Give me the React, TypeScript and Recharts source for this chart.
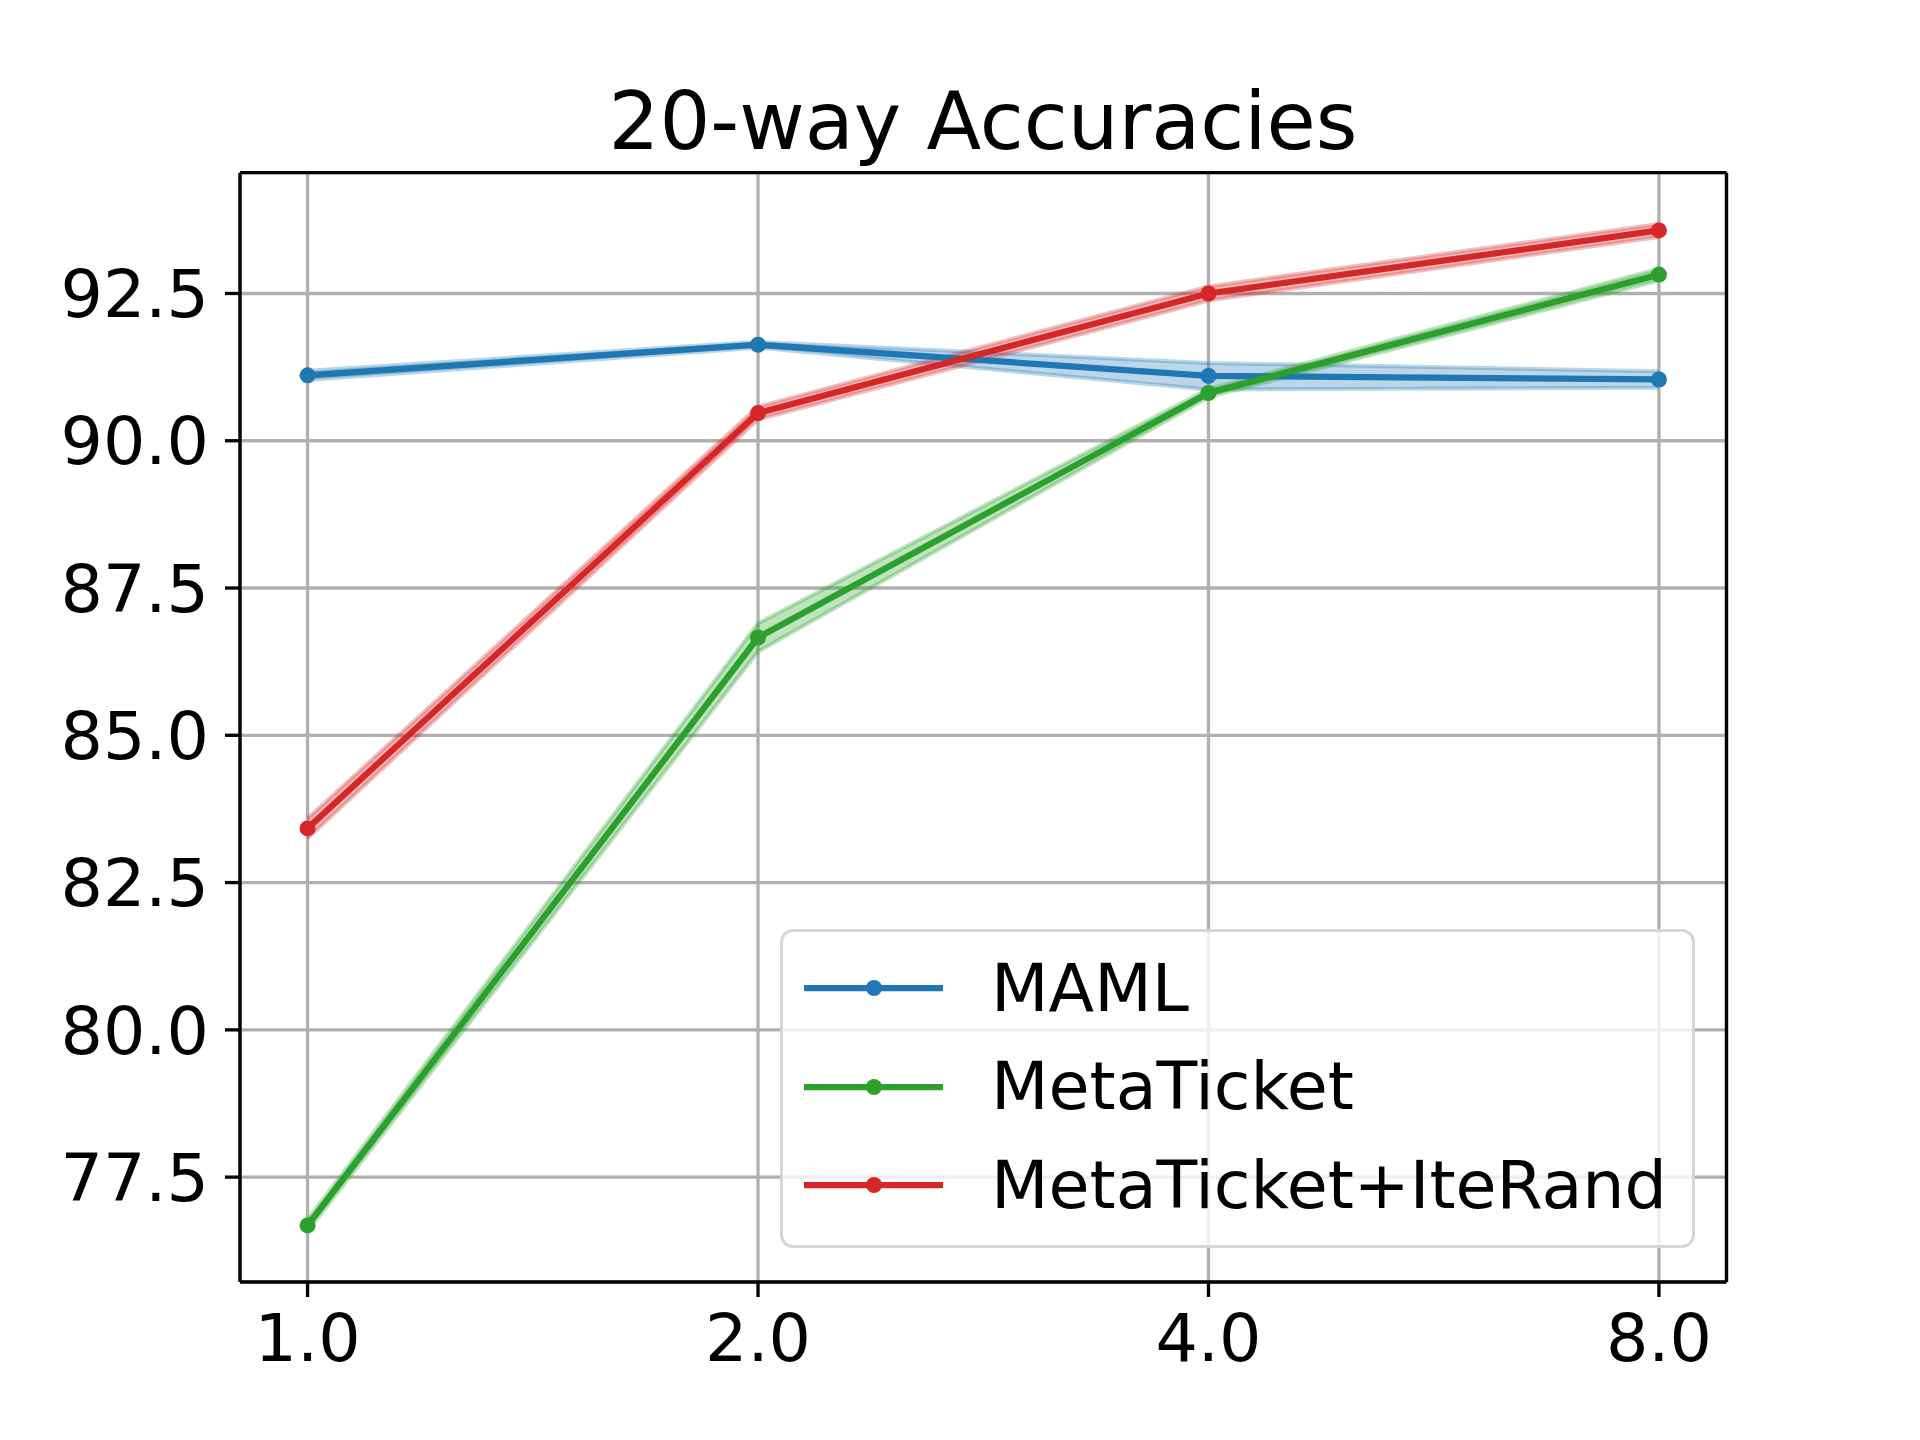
import { ComposedChart, Line, Area, XAxis, YAxis, CartesianGrid, ReferenceLine, Legend } from 'recharts';

const FONT = '"DejaVu Sans", sans-serif';

// x values (log2-spaced), y tick marks
const STEPS = [1, 2, 4, 8];
const Y_TICKS = [77.5, 80.0, 82.5, 85.0, 87.5, 90.0, 92.5];

// MAML
const MAML_MEAN = [91.11, 91.63, 91.10, 91.04];
const MAML_LO = [91.03, 91.58, 90.87, 90.90];
const MAML_HI = [91.19, 91.68, 91.32, 91.18];

// MetaTicket
const MT_MEAN = [76.68, 86.66, 90.81, 92.82];
const MT_LO = [76.58, 86.42, 90.74, 92.72];
const MT_HI = [76.78, 86.90, 90.88, 92.92];

// MetaTicket+IteRand
const IR_MEAN = [83.42, 90.47, 92.50, 93.57];
const IR_LO = [83.25, 90.36, 92.38, 93.46];
const IR_HI = [83.59, 90.58, 92.62, 93.68];

const X_MIN = Math.pow(2, -0.15);
const X_MAX = Math.pow(2, 3.15);
const Y_MIN = 75.72;
const Y_MAX = 94.55;

const data = STEPS.map((x, i) => ({
    x,
    maml: MAML_MEAN[i], mamlLo: MAML_LO[i], mamlHi: MAML_HI[i],
    mt: MT_MEAN[i], mtLo: MT_LO[i], mtHi: MT_HI[i],
    ir: IR_MEAN[i], irLo: IR_LO[i], irHi: IR_HI[i],
}));

const SERIES = [
    { name: 'MAML', color: '#1f77b4' },
    { name: 'MetaTicket', color: '#2ca02c' },
    { name: 'MetaTicket+IteRand', color: '#d62728' },
];

const LW = 6.25;
const GRID_W = 3.33;

const renderLegend = () => (
    <div style={{
        boxSizing: 'border-box', width: 915, height: 319,
        border: '3.3px solid rgba(204,204,204,0.8)', borderRadius: 13,
        background: 'rgba(255,255,255,0.8)', paddingTop: 7,
    }}>
        {SERIES.map((s) => (
            <div key={s.name} style={{ display: 'flex', alignItems: 'center', height: 98.5 }}>
                <svg width={208} height={30} style={{ flex: 'none' }}>
                    <line x1={21} y1={15} x2={160} y2={15} stroke={s.color} strokeWidth={LW} />
                    <circle cx={91} cy={15} r={8} fill={s.color} />
                </svg>
                <span style={{ fontFamily: FONT, fontSize: 66.7, color: '#000', whiteSpace: 'nowrap', lineHeight: 1 }}>
                    {s.name}
                </span>
            </div>
        ))}
    </div>
);

export default function App() {
    return (
        <div style={{ position: 'absolute', left: 0, top: 0, width: 1920, height: 1440, background: '#fff' }}>
            <div style={{
                position: 'absolute', left: 0, width: 1966, top: 81.6, textAlign: 'center',
                fontFamily: FONT, fontSize: 80, lineHeight: 1, color: '#000',
            }}>
                20-way Accuracies
            </div>
            <ComposedChart width={1920} height={1440} data={data}
                margin={{ top: 172.7, right: 193.5, bottom: 58, left: 40 }}>
                <CartesianGrid stroke="#b0b0b0" strokeWidth={GRID_W} />
                <XAxis dataKey="x" type="number" scale="log" domain={[X_MIN, X_MAX]} allowDataOverflow
                    ticks={STEPS} tickFormatter={(v) => Number(v).toFixed(1)} height={100}
                    tick={{ fill: '#000', fontSize: 66.7, fontFamily: FONT }}
                    axisLine={{ stroke: '#000', strokeWidth: GRID_W }}
                    tickLine={{ stroke: '#000', strokeWidth: GRID_W }}
                    tickSize={15} tickMargin={17} />
                <YAxis type="number" domain={[Y_MIN, Y_MAX]} allowDataOverflow ticks={Y_TICKS}
                    tickFormatter={(v) => Number(v).toFixed(1)} width={200}
                    tick={{ fill: '#000', fontSize: 66.7, fontFamily: FONT }}
                    axisLine={{ stroke: '#000', strokeWidth: GRID_W }}
                    tickLine={{ stroke: '#000', strokeWidth: GRID_W }}
                    tickSize={15} tickMargin={16} />
                <ReferenceLine y={Y_MAX} stroke="#000" strokeWidth={GRID_W} ifOverflow="visible" />
                <ReferenceLine x={X_MAX} stroke="#000" strokeWidth={GRID_W} ifOverflow="visible" />

                <Area dataKey={(d) => [d.mamlLo, d.mamlHi]} type="linear" fill="#1f77b4" fillOpacity={0.3}
                    stroke="#1f77b4" strokeOpacity={0.3} strokeWidth={4} isAnimationActive={false} activeDot={false} legendType="none" />
                <Line dataKey="maml" type="linear" stroke="#1f77b4" strokeWidth={LW}
                    dot={{ r: 8, fill: '#1f77b4', stroke: 'none' }} activeDot={false} isAnimationActive={false} />

                <Area dataKey={(d) => [d.mtLo, d.mtHi]} type="linear" fill="#2ca02c" fillOpacity={0.3}
                    stroke="#2ca02c" strokeOpacity={0.3} strokeWidth={4} isAnimationActive={false} activeDot={false} legendType="none" />
                <Line dataKey="mt" type="linear" stroke="#2ca02c" strokeWidth={LW}
                    dot={{ r: 8, fill: '#2ca02c', stroke: 'none' }} activeDot={false} isAnimationActive={false} />

                <Area dataKey={(d) => [d.irLo, d.irHi]} type="linear" fill="#d62728" fillOpacity={0.3}
                    stroke="#d62728" strokeOpacity={0.3} strokeWidth={4} isAnimationActive={false} activeDot={false} legendType="none" />
                <Line dataKey="ir" type="linear" stroke="#d62728" strokeWidth={LW}
                    dot={{ r: 8, fill: '#d62728', stroke: 'none' }} activeDot={false} isAnimationActive={false} />

                <Legend layout="vertical" align="center" verticalAlign="middle" content={renderLegend}
                    wrapperStyle={{ left: 780, top: 929, width: 915, height: 319 }} />
            </ComposedChart>
        </div>
    );
}
